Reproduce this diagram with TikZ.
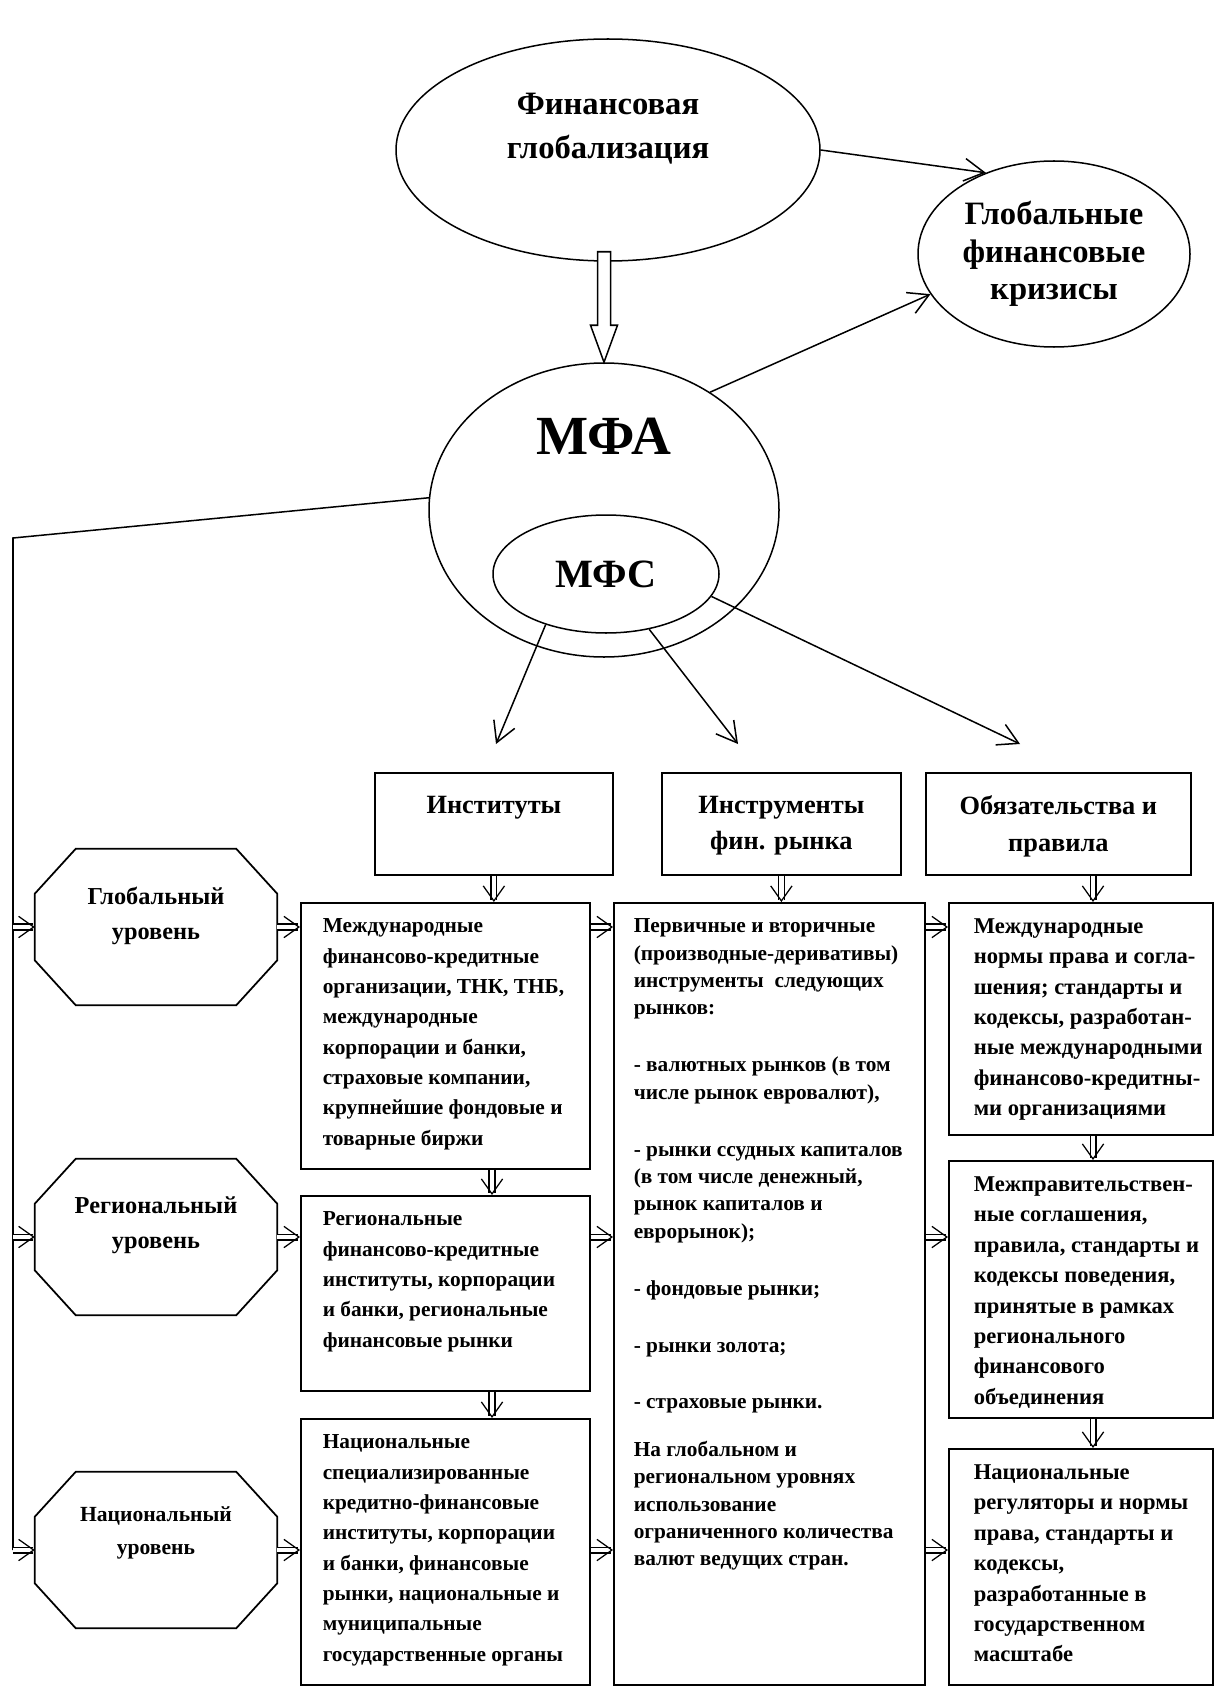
\documentclass[tikz,border=0pt]{standalone}
\usepackage{fontspec}
\setmainfont{Liberation Serif}
\usetikzlibrary{shapes.geometric,arrows.meta,calc}

\newcommand{\px}{0.014cm}

\begin{document}
\begin{tikzpicture}[x=0.014cm, y=-0.014cm, line width=0.6pt,
    oval/.style={draw, ellipse, inner sep=0pt, align=center},
    box/.style={draw, rectangle, inner sep=0pt, line width=0.7pt, anchor=north west},
    ttl/.style={font=\fontsize{10.5}{14.7}\selectfont\bfseries, align=center, anchor=north, inner sep=0pt},
    txt/.style={font=\fontsize{8.5}{12.1}\selectfont\bfseries, align=left, anchor=north west, inner sep=0pt},
    lvl/.style={font=\fontsize{9.7}{14}\selectfont\bfseries, align=center, inner sep=0pt},
    arr/.style={-{Straight Barb[length=8pt,width=9pt]}},
    dbl/.style={double, double distance=1.8pt, line width=0.5pt, -{Straight Barb[length=6pt,width=8.5pt]}}]
    \useasboundingbox (0,0) rectangle (1215,1687);

    % globalization, crises, MFA / MFS
    \node[oval, minimum width=424*\px, minimum height=222*\px] (fg) at (608,150) {};
    \node[font=\fontsize{13}{17.5}\selectfont\bfseries, align=center] (fgt) at (608,129) {Финансовая\\глобализация};
    \node[oval, minimum width=272*\px, minimum height=186*\px, font=\fontsize{13}{15}\selectfont\bfseries] (crisis) at (1054,254) {Глобальные\\финансовые\\кризисы};
    \node[oval, minimum width=350*\px, minimum height=294*\px] (mfa) at (604,510) {};
    \node[font=\fontsize{22}{26}\selectfont\bfseries] (mfat) at (604,436) {МФА};
    \node[oval, minimum width=226*\px, minimum height=118*\px, font=\fontsize{16}{19}\selectfont\bfseries] (mfs) at (606,574) {МФС};

    % hollow arrow
    \coordinate (h1) at (fg.south -| mfa.north);
    \coordinate (h2) at (mfa.north);
    \draw[fill=white] ($(h1)+(-6.5,-10)$) -- ($(h2)+(-6.5,-37)$) -- ($(h2)+(-13.5,-37)$) -- (h2)
        -- ($(h2)+(13.5,-37)$) -- ($(h2)+(6.5,-37)$) -- ($(h1)+(6.5,-10)$) -- cycle;
    \draw[arr] (fg.east) -- (crisis.130);
    \draw[arr] (mfa.48) -- (crisis.198);

    % title boxes
    \node[box, minimum width=238*\px, minimum height=102*\px] (inst) at (374,772) {};
    \node[box, minimum width=239*\px, minimum height=102*\px] (instr) at (661,772) {};
    \node[box, minimum width=265*\px, minimum height=102*\px] (oblig) at (925,772) {};
    \node[ttl] (instt) at ($(inst.north)+(0,23)$) {Институты};
    \node[ttl] (instrt) at ($(instr.north)+(0,23)$) {Инструменты\\фин. рынка};
    \node[ttl] (obligt) at ($(oblig.north)+(0,23)$) {Обязательства и\\правила};
    \coordinate (ta) at (496,744);
    \coordinate (tb) at (738,744);
    \coordinate (tc) at (1020,744);
    \draw[arr] (mfs.220) -- (ta);
    \draw[arr] (mfs.308) -- (tb);
    \draw[arr] (mfs.348) -- (tc);

    % content boxes
    \node[box, minimum width=289*\px, minimum height=266*\px] (i1) at (300,902) {};
    \node[box, minimum width=289*\px, minimum height=195*\px] (i2) at (300,1195) {};
    \node[box, minimum width=289*\px, minimum height=266*\px] (i3) at (300,1418) {};
    \node[box, minimum width=311*\px, minimum height=782*\px] (m) at (613,902) {};
    \node[box, minimum width=264*\px, minimum height=232*\px] (o1) at (948,902) {};
    \node[box, minimum width=264*\px, minimum height=257*\px] (o2) at (948,1160) {};
    \node[box, minimum width=264*\px, minimum height=236*\px] (o3) at (948,1448) {};

    \node[txt] (i1t) at ($(i1.north west)+(22,16)$) {Международные\\финансово-кредитные\\организации, ТНК, ТНБ,\\международные\\корпорации и банки,\\страховые компании,\\крупнейшие фондовые и\\товарные биржи};
    \node[txt] (i2t) at ($(i2.north west)+(22,16)$) {Региональные\\финансово-кредитные\\институты, корпорации\\и банки, региональные\\финансовые рынки};
    \node[txt] (i3t) at ($(i3.north west)+(22,16)$) {Национальные\\специализированные\\кредитно-финансовые\\институты, корпорации\\и банки, финансовые\\рынки, национальные и\\муниципальные\\государственные органы};
    \node[txt, font=\fontsize{8.5}{10.9}\selectfont\bfseries] (mt) at ($(m.north west)+(20,16)$) {Первичные и вторичные\\(производные-деривативы)\\инструменты~~следующих\\рынков:\\[11.8pt]
        - валютных рынков (в том\\числе рынок евровалют),\\[11.8pt]
        - рынки ссудных капиталов\\(в том числе денежный,\\рынок капиталов и\\еврорынок);\\[11.8pt]
        - фондовые рынки;\\[11.8pt]
        - рынки золота;\\[11.8pt]
        - страховые рынки.\\[8pt]
        На глобальном и\\региональном уровнях\\использование\\ограниченного количества\\валют ведущих стран.};
    \node[txt, font=\fontsize{9}{12.1}\selectfont\bfseries] (o1t) at ($(o1.north west)+(25,16)$) {Международные\\нормы права и согла-\\шения; стандарты и\\кодексы, разработан-\\ные международными\\финансово-кредитны-\\ми организациями};
    \node[txt, font=\fontsize{9}{12.1}\selectfont\bfseries] (o2t) at ($(o2.north west)+(25,16)$) {Межправительствен-\\ные соглашения,\\правила, стандарты и\\кодексы поведения,\\принятые в рамках\\регионального\\финансового\\объединения};
    \node[txt, font=\fontsize{9}{12.1}\selectfont\bfseries] (o3t) at ($(o3.north west)+(25,16)$) {Национальные\\регуляторы и нормы\\права, стандарты и\\кодексы,\\разработанные в\\государственном\\масштабе};

    % levels
    \node[minimum width=241*\px, minimum height=155*\px, inner sep=0pt] (glob) at (156,927) {};
    \node[minimum width=241*\px, minimum height=155*\px, inner sep=0pt] (reg) at (156,1237) {};
    \node[minimum width=241*\px, minimum height=155*\px, inner sep=0pt] (nat) at (156,1550) {};
    \node[lvl] (globt) at (156,916) {Глобальный\\уровень};
    \node[lvl] (regt) at (156,1225) {Региональный\\уровень};
    \node[lvl, font=\fontsize{8.6}{13}\selectfont\bfseries] (natt) at (156,1533) {Национальный\\уровень};
    \foreach \o in {glob,reg,nat}
        \draw[line width=0.7pt] ($(\o.north west)+(41,0)$) -- ($(\o.north east)+(-41,0)$) -- ($(\o.north east)+(0,45)$)
            -- ($(\o.south east)+(0,-45)$) -- ($(\o.south east)+(-41,0)$) -- ($(\o.south west)+(41,0)$)
            -- ($(\o.south west)+(0,-45)$) -- ($(\o.north west)+(0,45)$) -- cycle;

    % left line
    \coordinate (lc) at (13,538);
    \draw (mfa.176) -- (lc) -- (lc |- nat.west);
    \foreach \o in {glob,reg,nat}
        \draw[dbl] (lc |- \o.west) -- (\o.west);

    % rows
    \foreach \lv/\ib/\ob in {glob/i1/o1, reg/i2/o2, nat/i3/o3} {
        \draw[dbl] (\lv.east) -- (\lv.east -| \ib.west);
        \draw[dbl] (\lv.east -| \ib.east) -- (\lv.east -| m.west);
        \draw[dbl] (\lv.east -| m.east) -- (\lv.east -| \ob.west);
    }

    % columns
    \coordinate (icol) at (492,0);
    \coordinate (ocol) at (1093,0);
    \draw[dbl] (inst.south) -- (inst.south |- i1.north);
    \draw[dbl] (icol |- i1.south) -- (icol |- i2.north);
    \draw[dbl] (icol |- i2.south) -- (icol |- i3.north);
    \draw[dbl] (instr.south) -- (instr.south |- m.north);
    \draw[dbl] (ocol |- oblig.south) -- (ocol |- o1.north);
    \draw[dbl] (ocol |- o1.south) -- (ocol |- o2.north);
    \draw[dbl] (ocol |- o2.south) -- (ocol |- o3.north);
\end{tikzpicture}
\end{document}
